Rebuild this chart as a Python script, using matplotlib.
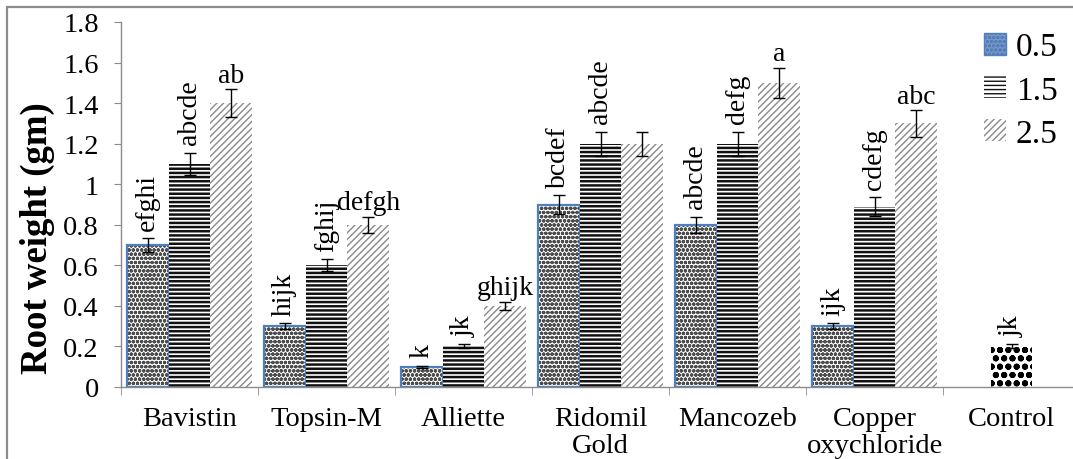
import numpy as np
import matplotlib.pyplot as plt
from matplotlib.patches import Rectangle, Patch

plt.rcParams["font.family"] = ["Liberation Serif", "DejaVu Serif"]

treatments = ["Bavistin", "Topsin-M", "Alliette", "Ridomil\nGold", "Mancozeb",
              "Copper\noxychloride", "Control"]
series_names = ["0.5", "1.5", "2.5"]

# root weight (gm) per dose, Control has a single bar
weight_05 = [0.70, 0.30, 0.10, 0.90, 0.80, 0.30]
weight_15 = [1.10, 0.60, 0.20, 1.20, 1.20, 0.89]
weight_25 = [1.40, 0.80, 0.40, 1.20, 1.50, 1.30]
err_05 = [0.035, 0.015, 0.005, 0.045, 0.040, 0.015]
err_15 = [0.055, 0.030, 0.010, 0.060, 0.060, 0.045]
err_25 = [0.070, 0.040, 0.020, 0.060, 0.075, 0.065]
control_weight = 0.20
control_err = 0.010

letters_05 = ["efghi", "hijk", "k", "bcdef", "abcde", "ijk"]
letters_15 = ["abcde", "fghij", "jk", "abcde", "defg", "cdefg"]
letters_25 = ["ab", "defgh", "ghijk", "", "a", "abc"]
control_letter = "jk"

fig = plt.figure(figsize=(10.73, 4.6), dpi=100)
ax = fig.add_axes([121 / 1073, 72 / 460, (1080 - 121) / 1073, 365 / 460])

# outer frame of the original graphic
fig.patches.append(Rectangle((7 / 1073, -0.1), 1.2, (452 + 46) / 460,
                             transform=fig.transFigure, fill=False,
                             edgecolor="#8c8c8c", linewidth=1.6))

n_groups = len(weight_05)
x = np.arange(n_groups)
bar_w = 0.305

styles = [
    dict(hatch="oooo", hatch_color="#4d4d4d", lw=1.2),
    dict(hatch="----", hatch_color="#111111", lw=1.8),
    dict(hatch="/////", hatch_color="#8a8a8a", lw=1.0),
]
values = [weight_05, weight_15, weight_25]
errors = [err_05, err_15, err_25]
letters = [letters_05, letters_15, letters_25]
rotations = [90, 90, 0]
offsets = [-bar_w, 0.0, bar_w]

handles = []
for k in range(3):
    st = styles[k]
    with plt.rc_context({"hatch.linewidth": st["lw"]}):
        ax.bar(x + offsets[k], values[k], bar_w, facecolor="white",
               edgecolor=st["hatch_color"], hatch=st["hatch"], linewidth=0)
        if k == 0:
            handles.append(Patch(facecolor="#7d97bd", edgecolor="#4f7fbf",
                                 hatch="oooo", linewidth=1))
        else:
            handles.append(Patch(facecolor="white", edgecolor=st["hatch_color"],
                                 hatch=st["hatch"], linewidth=0))
    if k == 0:
        ax.bar(x + offsets[k], values[k], bar_w, fill=False,
               edgecolor="#4f7fbf", linewidth=1.6)
    ax.errorbar(x + offsets[k], values[k], yerr=errors[k], fmt="none",
                ecolor="black", elinewidth=1, capsize=4, capthick=1)
    for i in range(n_groups):
        if not letters[k][i]:
            continue
        ax.annotate(letters[k][i], (x[i] + offsets[k], values[k][i] + errors[k][i]),
                    xytext=(0, 6 if rotations[k] else 1), textcoords="offset points",
                    ha="center", va="bottom", rotation=rotations[k],
                    fontsize=20)

# Control bar
with plt.rc_context({"hatch.linewidth": 2.0}):
    ax.bar(n_groups, control_weight, bar_w, facecolor="white", edgecolor="black",
           hatch="oo", linewidth=0)
ax.errorbar(n_groups, control_weight, yerr=control_err, fmt="none",
            ecolor="black", elinewidth=1, capsize=4, capthick=1)
ax.annotate(control_letter, (n_groups, control_weight + control_err),
            xytext=(0, 6), textcoords="offset points", ha="center", va="bottom",
            rotation=90, fontsize=20)

ax.set_xlim(0 - 0.5, len(treatments) - 0.5)
ax.set_ylim(0, 1.8)
ax.set_yticks(np.arange(0, 1.81, 0.2))
ax.set_yticklabels(["0", "0.2", "0.4", "0.6", "0.8", "1", "1.2", "1.4", "1.6", "1.8"])
ax.set_xticks(np.arange(len(treatments)))
ax.set_xticklabels(treatments, linespacing=1.1)
ax.set_xticks(np.arange(len(treatments) + 1) - 0.5, minor=True)
ax.tick_params(axis="x", which="major", length=0, pad=14, labelsize=20.5)
ax.tick_params(axis="x", which="minor", length=6, color="#8c8c8c", direction="out")
ax.tick_params(axis="y", length=5, color="#8c8c8c", labelsize=20.5, pad=11)

for side in ["top", "right"]:
    ax.spines[side].set_visible(False)
for side in ["left", "bottom"]:
    ax.spines[side].set_color("#8c8c8c")
    ax.spines[side].set_linewidth(1)

ax.set_ylabel("Root weight (gm)", fontsize=26.5, fontweight="bold")
ax.yaxis.set_label_coords(-0.069, 0.41)

with plt.rc_context({"hatch.linewidth": 1.0}):
    ax.legend(handles, series_names, loc="upper left",
              bbox_to_anchor=(984 / 1073, 427 / 460), bbox_transform=fig.transFigure,
              frameon=False, fontsize=24, handlelength=0.65, handleheight=0.65,
              handletextpad=0.3, labelspacing=0.38, borderaxespad=0, borderpad=0)

fig.savefig("out.png", dpi=100)
